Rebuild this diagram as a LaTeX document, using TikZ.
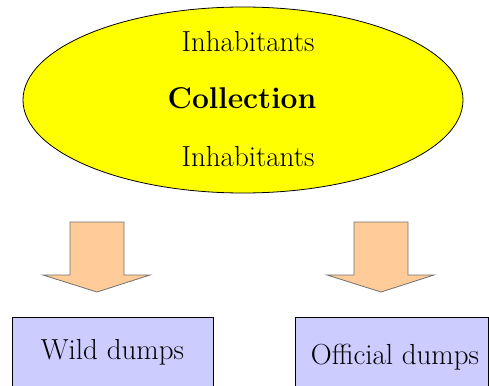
\documentclass[tikz,border=0pt]{standalone}
\usetikzlibrary{shapes.geometric}
\definecolor{ovalfill}{HTML}{FFFF00}
\definecolor{arrowfill}{HTML}{FFCC99}
\definecolor{arrowline}{HTML}{707070}
\definecolor{boxfill}{HTML}{CCCCFF}
\tikzset{
  oval/.style={ellipse, draw=black, line width=0.8pt, fill=ovalfill,
    minimum width=440pt, minimum height=186pt, inner sep=0pt},
  txt/.style={anchor=base, inner sep=0pt, font=\rmfamily\fontsize{29}{34}\selectfont},
  title/.style={anchor=base, inner sep=0pt, font=\rmfamily\fontsize{30}{36}\selectfont\bfseries},
  dumpbox/.style={draw=black, line width=1pt, fill=boxfill},
  blockarrow/.style={draw=arrowline, line width=0.8pt, fill=arrowfill, line join=miter},
  downarrow/.pic={
    \path[blockarrow] (-27,0) -- (27,0) -- (27,53) -- (53,53) -- (0,70)
      -- (-54,53) -- (-27,53) -- cycle;
  }
}
\begin{document}
\begin{tikzpicture}[x=1pt, y=-1pt]
  \useasboundingbox (0,0) rectangle (489,385);
  \clip (0,0) rectangle (489,385);

  % central oval with its labels
  \node[oval] (collect) at (243,100) {};
  \node[txt]   (inhtop) at (248,52)  {Inhabitants};
  \node[title] (coll)   at (242,108) {Collection};
  \node[txt]   (inhbot) at (248,166) {Inhabitants};

  % block arrows pointing down to the two kinds of dumps
  \coordinate (arrL) at (97,222);
  \coordinate (arrR) at (381,222);
  \pic at (arrL) {downarrow};
  \pic at (arrR) {downarrow};

  % destination boxes (run past the lower edge)
  \path[dumpbox] (12,317) rectangle (213,400);
  \path[dumpbox] (295,317) rectangle (488,400);
  \node[txt] (wild)     at (112.5,359) {Wild dumps};
  \node[txt] (official) at (395,364)   {Official dumps};
\end{tikzpicture}
\end{document}
